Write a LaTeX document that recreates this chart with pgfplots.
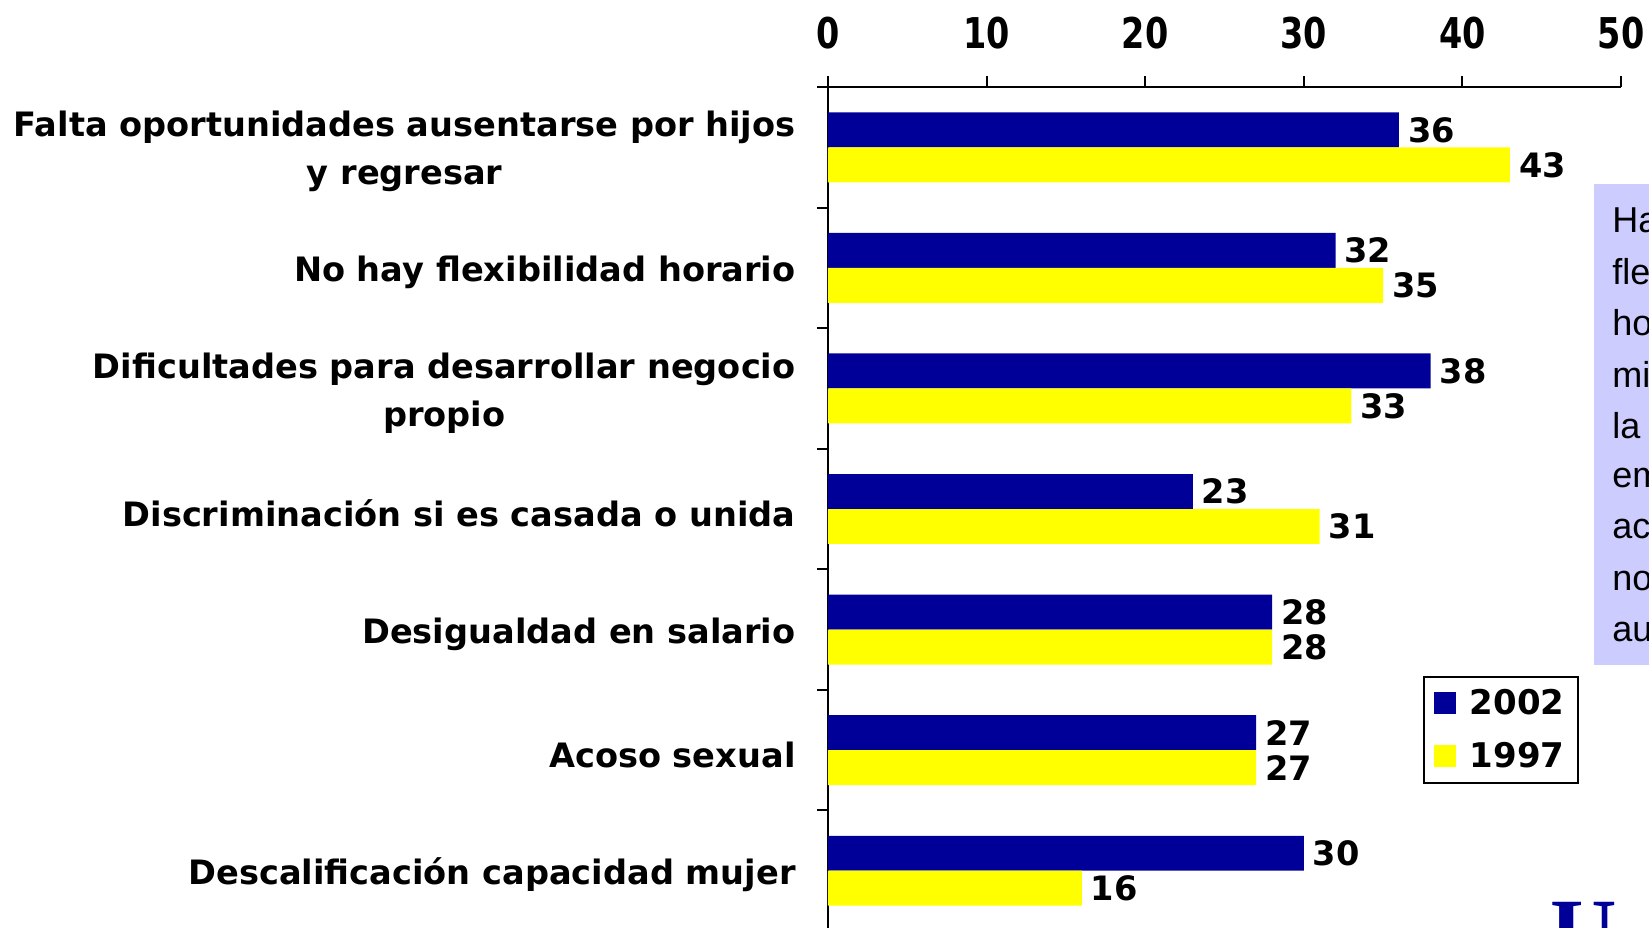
\documentclass[border=0pt]{standalone}
\usepackage{fontspec}
\setmainfont{DejaVu Sans}
\newfontfamily\condf{DejaVu Sans Condensed}
\newfontfamily\arialf{Liberation Sans}
\newfontfamily\seriff{Liberation Serif}
\usepackage{graphicx}
\usepackage{pgfplots}
\usepackage{pgfplotstable}
\pgfplotsset{compat=1.18}
\definecolor{barblue}{RGB}{0,0,153}
\definecolor{baryellow}{RGB}{255,255,0}
\definecolor{boxlav}{RGB}{204,204,255}

\pgfplotstableread{
y v
0 36
1 32
2 38
3 23
4 28
5 27
6 30
}\dataA
\pgfplotstableread{
y v
0 43
1 35
2 33
3 31
4 28
5 27
6 16
}\dataB

\begin{document}
\begin{tikzpicture}
\useasboundingbox (0,0) rectangle (824.5pt,-463.5pt);
\clip (0,0) rectangle (824.5pt,-463.5pt);
\fill[boxlav] (797pt,-92pt) rectangle (830pt,-332.5pt);
\foreach \t [count=\i from 0] in {Ha,fle,ho,mi,la,em,ac,no,au}{
  \node[anchor=west, inner sep=0, font=\arialf\fontsize{18}{20}\selectfont] at (806pt,{-110pt-\i*25.75pt}) {\t};
}
\node[anchor=north west, inner sep=0, text=barblue, font=\seriff\bfseries\fontsize{46}{46}\selectfont] at (775pt,-451pt) {U-};
\begin{axis}[
  at={(414pt,-43.5pt)}, anchor=north west,
  scale only axis, width=396.5pt, height=422pt,
  xbar, xmin=0, xmax=50, ymin=-0.5, ymax=6.5, y dir=reverse,
  axis x line*=top, axis y line*=left,
  axis line style={line width=1pt, black},
  tick style={line width=1pt, black},
  tick align=outside, major tick length=5.3pt,
  xtick={0,10,...,50},
  xticklabel={\scalebox{1}[1.14]{\pgfmathprintnumber{\tick}}},
  xticklabel style={font=\condf\bfseries\fontsize{18.6}{20}\selectfont, yshift=10pt},
  ytick={-0.5,0.5,...,6.5},
  yticklabels={,,,,,,,},
  extra y ticks={0,1,2,3,4,5,6},
  extra y tick labels={{Falta oportunidades ausentarse por hijos\\y regresar},
    {No hay flexibilidad horario},
    {Dificultades para desarrollar negocio\\propio},
    {Discriminación si es casada o unida},
    {Desigualdad en salario},
    {Acoso sexual},
    {Descalificación capacidad mujer}},
  extra y tick style={major tick length=0pt,
    yticklabel style={align=center, font=\bfseries\fontsize{16.8}{24}\selectfont, xshift=-12.7pt, yshift=-2.2pt}},
  bar width=0.29,
  nodes near coords,
  nodes near coords style={font=\bfseries\fontsize{16.8}{20}\selectfont, black, anchor=west, xshift=1pt},
  /pgf/number format/assume math mode=true,
  legend style={at={(axis description cs:0.750,0.302)}, anchor=north west,
    draw=black, line width=1pt, font=\bfseries\fontsize{17}{20}\selectfont,
    row sep=8.5pt, inner xsep=5pt, inner ysep=4pt},
  legend image code/.code={\fill[#1] (0pt,-5.5pt) rectangle (11pt,5.5pt); \path (16pt,0pt);},
]
\addplot[fill=barblue, draw=none, bar shift=-0.145] table[x=v, y=y] {\dataA};
\addlegendentry{2002}
\addplot[fill=baryellow, draw=none, bar shift=0.145] table[x=v, y=y] {\dataB};
\addlegendentry{1997}
\end{axis}
\end{tikzpicture}
\end{document}
